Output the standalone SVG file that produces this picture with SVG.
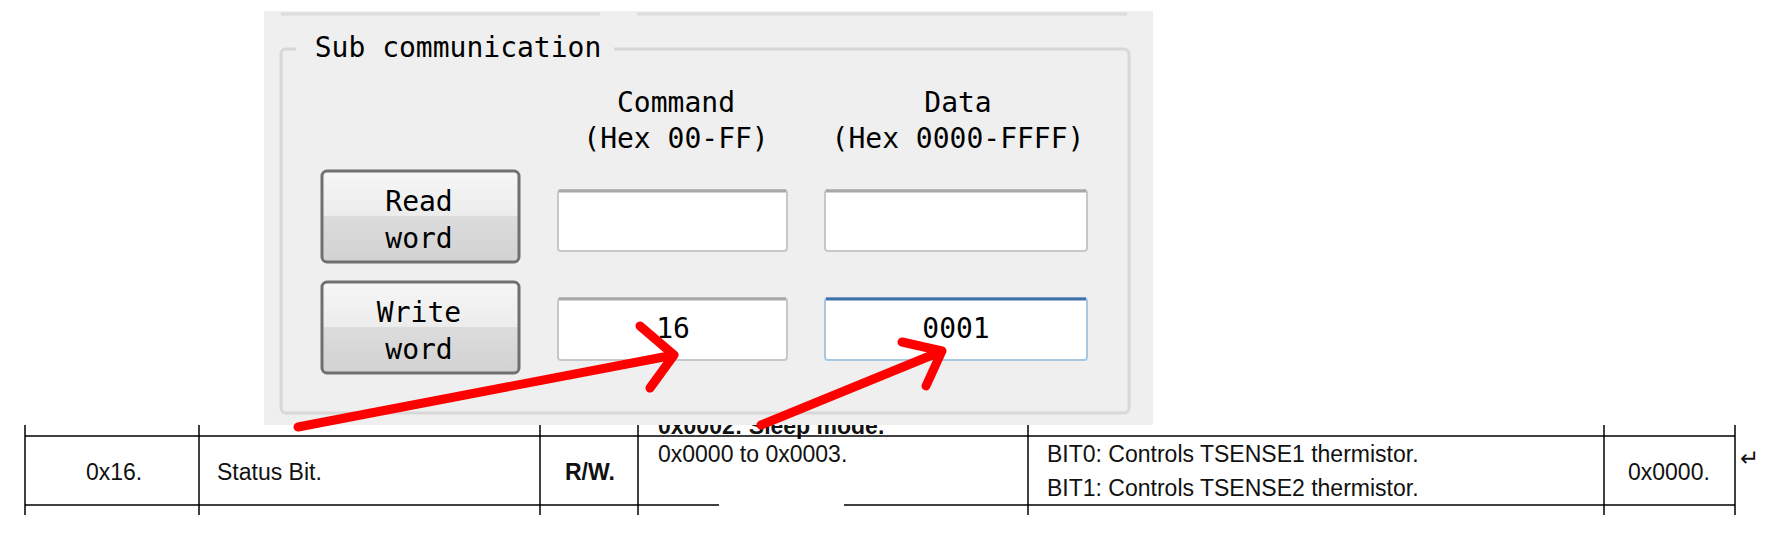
<svg xmlns="http://www.w3.org/2000/svg" width="1767" height="557" viewBox="0 0 1767 557">
<style>
.gui{font-family:"DejaVu Sans Mono","Liberation Mono",monospace;font-size:28px;fill:#000;text-anchor:middle}
.tb{font-family:"Liberation Sans",Arial,sans-serif;font-size:23px;fill:#111}
.box{fill:#fff;stroke:#c8c8c8;stroke-width:2}
.btn{stroke:#707070;stroke-width:3}
.tl{stroke:#000;stroke-width:1.5}
.arr{stroke:#f00;stroke-width:9;fill:none;stroke-linecap:round;stroke-linejoin:round}
</style>
<defs>
<linearGradient id="bg" x1="0" y1="0" x2="0" y2="1">
<stop offset="0" stop-color="#f6f6f6"/><stop offset="0.5" stop-color="#ececec"/><stop offset="0.5" stop-color="#dcdcdc"/><stop offset="1" stop-color="#d2d2d2"/>
</linearGradient>
</defs>
<rect width="1767" height="557" fill="#fff"/>
<g id="table">
<text class="tb" x="658" y="434" font-weight="bold">0x0002: Sleep mode.</text>
<line class="tl" x1="25" y1="436" x2="1735" y2="436" stroke-width="4"/>
<line class="tl" x1="25" y1="505" x2="1735" y2="505" stroke-width="4"/>
<line x1="719" y1="505" x2="844" y2="505" stroke="#fff" stroke-width="5"/>
<g class="tl"><line x1="25" y1="425" x2="25" y2="515"/><line x1="199" y1="425" x2="199" y2="515"/><line x1="540" y1="425" x2="540" y2="515"/><line x1="638" y1="425" x2="638" y2="515"/><line x1="1028" y1="425" x2="1028" y2="515"/><line x1="1604" y1="425" x2="1604" y2="515"/><line x1="1735" y1="425" x2="1735" y2="515"/></g>
<text class="tb" x="86" y="480">0x16.</text>
<text class="tb" x="217" y="480">Status Bit.</text>
<text class="tb" x="565" y="480" font-weight="bold">R/W.</text>
<text class="tb" x="658" y="462">0x0000 to 0x0003.</text>
<text class="tb" x="1047" y="462">BIT0: Controls TSENSE1 thermistor.</text>
<text class="tb" x="1047" y="496">BIT1: Controls TSENSE2 thermistor.</text>
<text class="tb" x="1628" y="480">0x0000.</text>
<text class="tb" x="1740" y="466" font-size="18" fill="#666">↵</text>
</g>
<g id="panel">
<rect x="264" y="11" width="889" height="414" fill="#efefef"/>
<line x1="281" y1="14" x2="600" y2="14" stroke="#dcdcdc" stroke-width="3"/>
<line x1="637" y1="14" x2="1127" y2="14" stroke="#dcdcdc" stroke-width="3"/>
<rect x="281" y="49" width="848" height="364" rx="5" fill="none" stroke="#d8d8d8" stroke-width="3"/>
<rect x="296" y="36" width="318" height="28" fill="#efefef"/>
<text class="gui" x="458" y="57">Sub communication</text>
<text class="gui" x="676" y="112">Command</text>
<text class="gui" x="676" y="148">(Hex 00-FF)</text>
<text class="gui" x="958" y="112">Data</text>
<text class="gui" x="958" y="148">(Hex 0000-FFFF)</text>
</g>
<g id="read-word"><rect class="btn" x="322" y="171" width="197" height="91" rx="5" fill="url(#bg)"/><text class="gui" x="419" y="211">Read</text><text class="gui" x="419" y="248">word</text></g>
<g id="write-word"><rect class="btn" x="322" y="282" width="197" height="91" rx="5" fill="url(#bg)"/><text class="gui" x="419" y="322">Write</text><text class="gui" x="419" y="359">word</text></g>
<g id="read-cmd"><rect class="box" x="558" y="190" width="229" height="61" rx="3"/><line x1="559" y1="191" x2="786" y2="191" stroke="#a8a8a8" stroke-width="3"/></g>
<g id="read-data"><rect class="box" x="825" y="190" width="262" height="61" rx="3"/><line x1="826" y1="191" x2="1086" y2="191" stroke="#a8a8a8" stroke-width="3"/></g>
<g id="write-cmd"><rect class="box" x="558" y="298" width="229" height="62" rx="3"/><line x1="559" y1="299" x2="786" y2="299" stroke="#a8a8a8" stroke-width="3"/><text class="gui" x="673" y="338">16</text></g>
<g id="write-data"><rect x="825" y="298" width="262" height="62" rx="3" fill="#fff" stroke="#a9c8e0" stroke-width="2"/><line x1="826" y1="299" x2="1086" y2="299" stroke="#3f72a8" stroke-width="3"/><text class="gui" x="956" y="338">0001</text></g>
<g id="connectors">
<path class="arr" d="M298 427 L674 355 M640 326 L674 355 L650 388"/>
<path class="arr" d="M761 425 L942 351 M902 342 L942 351 L926 386"/>
</g>
</svg>
